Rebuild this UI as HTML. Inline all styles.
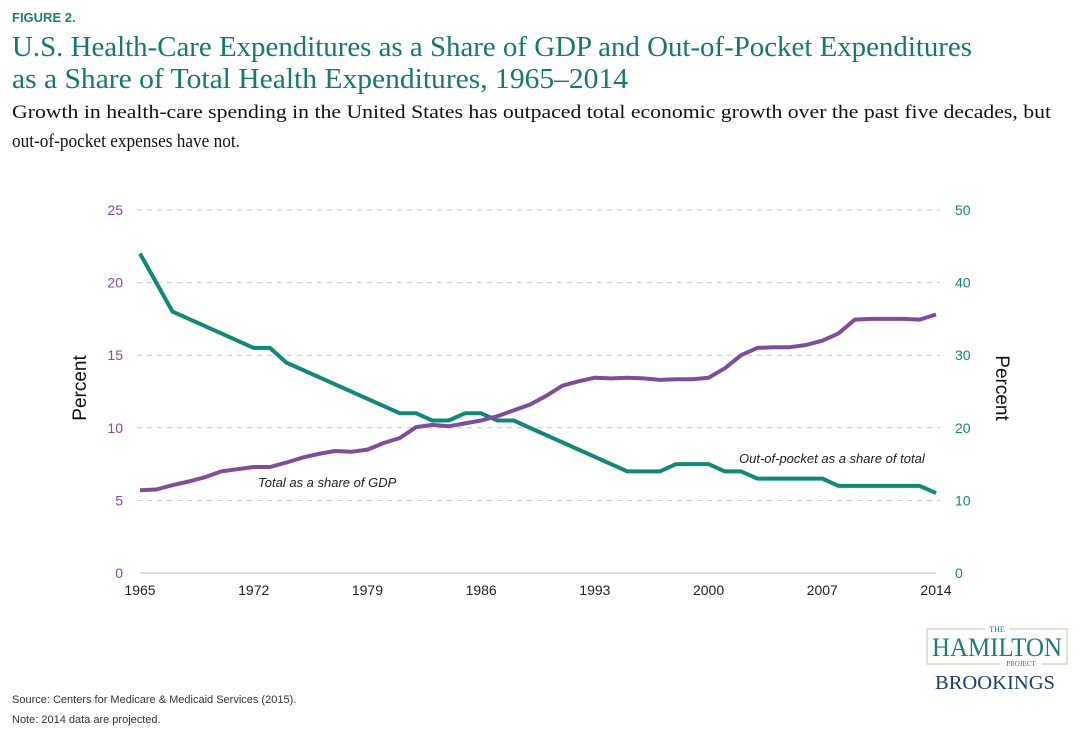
<!DOCTYPE html>
<html><head><meta charset="utf-8"><style>
body{margin:0;background:#fff;}
svg{display:block}
</style></head><body>
<svg id="s" width="1080" height="738" xmlns="http://www.w3.org/2000/svg">
<text x="12" y="22" font-family="Liberation Sans, sans-serif" font-weight="bold" font-size="13" fill="#1a7f74">FIGURE 2.</text>
<text x="12" y="56" font-family="Liberation Serif, serif" font-size="28" fill="#137a6e" textLength="960" lengthAdjust="spacingAndGlyphs">U.S. Health-Care Expenditures as a Share of GDP and Out-of-Pocket Expenditures</text>
<text x="12" y="88" font-family="Liberation Serif, serif" font-size="28" fill="#137a6e" textLength="616" lengthAdjust="spacingAndGlyphs">as a Share of Total Health Expenditures, 1965–2014</text>
<text x="12" y="118" font-family="Liberation Serif, serif" font-size="19" fill="#111" textLength="1039" lengthAdjust="spacingAndGlyphs">Growth in health-care spending in the United States has outpaced total economic growth over the past five decades, but</text>
<text x="12" y="147" font-family="Liberation Serif, serif" font-size="19" fill="#111" textLength="228" lengthAdjust="spacingAndGlyphs">out-of-pocket expenses have not.</text>
<g id="grid" stroke="#c8c8c8" stroke-width="1" stroke-dasharray="5,5"></g>
<line x1="140" y1="573" x2="936" y2="573" stroke="#bbb"/>
<g id="lab" font-family="Liberation Sans, sans-serif" font-size="14"></g>
<text transform="translate(86,388) rotate(-90)" text-anchor="middle" font-family="Liberation Sans, sans-serif" font-size="19" fill="#111">Percent</text>
<text transform="translate(996,388) rotate(90)" text-anchor="middle" font-family="Liberation Sans, sans-serif" font-size="19" fill="#111">Percent</text>
<polyline id="g" fill="none" stroke="#0e8a78" stroke-width="4" stroke-linejoin="round"/>
<polyline id="p" fill="none" stroke="#7f4da0" stroke-width="4" stroke-linejoin="round"/>
<text x="258" y="487" font-family="Liberation Sans, sans-serif" font-style="italic" font-size="13" fill="#222">Total as a share of GDP</text>
<text x="739" y="463" font-family="Liberation Sans, sans-serif" font-style="italic" font-size="13" fill="#222">Out-of-pocket as a share of total</text>
<rect x="927" y="629" width="140" height="35" fill="none" stroke="#d6dcc0" stroke-width="1.5"/>
<rect x="985" y="624" width="24" height="10" fill="#fff"/>
<text x="997" y="632" text-anchor="middle" font-family="Liberation Serif, serif" font-size="8" fill="#1a7f74">THE</text>
<text x="997" y="656" text-anchor="middle" font-family="Liberation Serif, serif" font-size="26" fill="#1a7f74" textLength="130" lengthAdjust="spacingAndGlyphs">HAMILTON</text>
<rect x="1000" y="659" width="42" height="10" fill="#fff"/>
<text x="1021" y="666" text-anchor="middle" font-family="Liberation Serif, serif" font-size="7" fill="#1a7f74">PROJECT</text>
<text x="995" y="689" text-anchor="middle" font-family="Liberation Serif, serif" font-size="20" fill="#1d3c72" textLength="120" lengthAdjust="spacingAndGlyphs">BROOKINGS</text>
<text x="12" y="703" font-family="Liberation Sans, sans-serif" font-size="11" fill="#333">Source: Centers for Medicare &amp; Medicaid Services (2015).</text>
<text x="12" y="723" font-family="Liberation Sans, sans-serif" font-size="11" fill="#333">Note: 2014 data are projected.</text>
</svg>
<script>
var ns="http://www.w3.org/2000/svg";
function X(y){return 140+(y-1965)*16.245;}
function YL(v){return 573-v*14.52;}
var grid=document.getElementById('grid'),lab=document.getElementById('lab');
for(var i=1;i<=5;i++){var y=YL(i*5);var l=document.createElementNS(ns,'line');
l.setAttribute('x1',137);l.setAttribute('x2',940);l.setAttribute('y1',y);l.setAttribute('y2',y);grid.appendChild(l);}
function t(x,y,s,c,a){var e=document.createElementNS(ns,'text');e.setAttribute('x',x);e.setAttribute('y',y);e.setAttribute('fill',c);e.setAttribute('text-anchor',a);e.textContent=s;lab.appendChild(e);}
for(var i=0;i<=5;i++){var y=YL(i*5)+5;t(123,y,String(i*5),'#7f4da0','end');t(955,y,String(i*10),'#0e8a78','start');}
[1965,1972,1979,1986,1993,2000,2007,2014].forEach(function(yr){t(X(yr),595,String(yr),'#222','middle');});
var G=[[1965,44],[1967,36],[1972,31],[1973,31],[1974,29],[1981,22],[1982,22],[1983,21],[1984,21],[1985,22],[1986,22],[1987,21],[1988,21],[1995,14],[1997,14],[1998,15],[2000,15],[2001,14],[2002,14],[2003,13],[2007,13],[2008,12],[2013,12],[2014,11]];
var P=[5.7,5.75,6.05,6.3,6.6,7.0,7.15,7.3,7.3,7.6,7.95,8.2,8.4,8.35,8.5,8.95,9.3,10.05,10.2,10.1,10.3,10.5,10.8,11.2,11.6,12.2,12.9,13.2,13.45,13.4,13.45,13.4,13.3,13.35,13.35,13.45,14.1,15.0,15.5,15.55,15.55,15.7,16.0,16.5,17.45,17.5,17.5,17.5,17.45,17.8];
document.getElementById('g').setAttribute('points',G.map(function(d){return X(d[0]).toFixed(1)+','+(573-d[1]*7.26).toFixed(1);}).join(' '));
document.getElementById('p').setAttribute('points',P.map(function(v,i){return X(1965+i).toFixed(1)+','+YL(v).toFixed(1);}).join(' '));
</script>
</body></html>
